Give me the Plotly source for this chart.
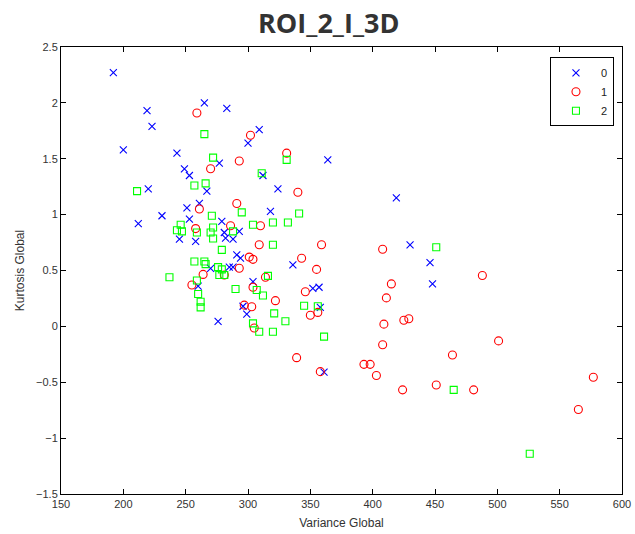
import plotly.graph_objects as go

# Class 0 (blue x)
x0 = [192, 265, 219, 283, 223, 309, 300, 200, 243, 364, 277, 249, 253, 312, 220, 324, 267, 261, 251, 318,
      231, 253, 212, 279, 281, 293, 282, 288, 245, 258, 291, 294, 270, 285, 288, 336, 304, 260, 352, 357,
      296, 299, 358, 276, 361, 419, 430, 446, 448]
y0 = [2.27, 2.00, 1.93, 1.95, 1.79, 1.76, 1.64, 1.58, 1.55, 1.49, 1.46, 1.41, 1.35, 1.35, 1.23, 1.23, 1.21, 1.10, 1.06, 1.03,
      0.99, 0.96, 0.92, 0.94, 0.84, 0.85, 0.79, 0.78, 0.78, 0.76, 0.64, 0.61, 0.52, 0.53, 0.53, 0.55, 0.40, 0.36, 0.34, 0.35,
      0.18, 0.11, 0.17, 0.045, -0.41, 1.15, 0.73, 0.57, 0.38]

# Class 1 (red circles)
x1 = [259, 302, 331, 293, 270, 340, 291, 261, 286, 310, 258, 309, 359, 301, 304, 343, 355, 293, 264, 281,
      314, 255, 304, 346, 322, 297, 303, 350, 356, 305, 339, 358, 393, 398, 403, 408, 488, 415, 411, 409,
      425, 429, 408, 501, 464, 424, 451, 481, 577, 565]
y1 = [1.91, 1.71, 1.55, 1.48, 1.41, 1.20, 1.10, 1.05, 0.90, 0.90, 0.875, 0.73, 0.73, 0.62, 0.60, 0.61, 0.51, 0.52, 0.465, 0.46,
      0.44, 0.37, 0.35, 0.31, 0.23, 0.19, 0.175, 0.10, 0.125, -0.015, -0.28, -0.405, -0.34, -0.34, -0.44, 0.69, 0.455, 0.38, 0.255, 0.02,
      0.055, 0.068, -0.164, -0.13, -0.256, -0.568, -0.524, -0.568, -0.455, -0.744]

# Class 2 (green squares)
x2 = [265, 272, 331, 311, 257, 266, 211, 295, 341, 271, 304, 320, 332, 246, 243, 247, 259, 272, 270, 288,
      272, 320, 279, 257, 265, 266, 276, 279, 277, 281, 316, 237, 259, 290, 307, 260, 262, 262, 312, 345,
      356, 321, 330, 304, 309, 320, 361, 451, 465, 526]
y2 = [1.72, 1.51, 1.49, 1.37, 1.26, 1.28, 1.21, 1.02, 1.01, 0.99, 0.91, 0.93, 0.93, 0.91, 0.86, 0.85, 0.84, 0.885, 0.84, 0.85,
      0.786, 0.73, 0.685, 0.58, 0.58, 0.557, 0.53, 0.51, 0.46, 0.46, 0.452, 0.44, 0.41, 0.335, 0.325, 0.29, 0.22, 0.17, 0.276, 0.185,
      0.18, 0.116, 0.046, 0.027, -0.048, -0.048, -0.092, 0.708, -0.568, -1.14]

classes = ["0", "1", "2"]

fig = go.Figure()
fig.add_trace(go.Scatter(x=x0, y=y0, mode="markers", name=classes[0],
                         marker=dict(symbol="x-thin-open", size=7, color="#0000FF",
                                     line=dict(color="#0000FF", width=1.1))))
fig.add_trace(go.Scatter(x=x1, y=y1, mode="markers", name=classes[1],
                         marker=dict(symbol="circle-open", size=8, color="#FF0000",
                                     line=dict(color="#FF0000", width=1.1))))
fig.add_trace(go.Scatter(x=x2, y=y2, mode="markers", name=classes[2],
                         marker=dict(symbol="square-open", size=7, color="#00FF00",
                                     line=dict(color="#00FF00", width=1.1))))

axis_common = dict(showline=True, linecolor="#000000", linewidth=1, mirror="ticks",
                   ticks="inside", ticklen=5, tickcolor="#000000", showgrid=False,
                   zeroline=False, automargin=False,
                   tickfont=dict(family="Liberation Sans, Arial", size=11, color="#333333"))

fig.update_layout(
    width=635, height=534,
    paper_bgcolor="white", plot_bgcolor="white",
    margin=dict(l=61, r=13, t=47, b=40),
    title=dict(text="<b>ROI_2_I_3D</b>", x=0.5177, xanchor="center", y=0.955, yanchor="middle",
               automargin=False,
               font=dict(family="Open Sans", size=27, color="#333333")),
    xaxis=dict(range=[150, 600], dtick=50, tick0=150,
               title=dict(text="Variance Global", standoff=9,
                          font=dict(family="Liberation Sans, Arial", size=12, color="#333333")),
               **axis_common),
    yaxis=dict(range=[-1.5, 2.5], dtick=0.5, tick0=-1.5,
               title=dict(text="Kurtosis Global", standoff=8,
                          font=dict(family="Liberation Sans, Arial", size=12, color="#333333")),
               **axis_common),
    legend=dict(x=0.9857, xanchor="right", y=0.977, yanchor="top",
                bordercolor="#000000", borderwidth=1, bgcolor="white",
                font=dict(family="Liberation Sans, Arial", size=11, color="#222222"),
                tracegroupgap=0, itemwidth=40),
    showlegend=True,
)

fig.write_html("out.html", config={"displayModeBar": False},
               post_script="document.body.style.margin='0';")
